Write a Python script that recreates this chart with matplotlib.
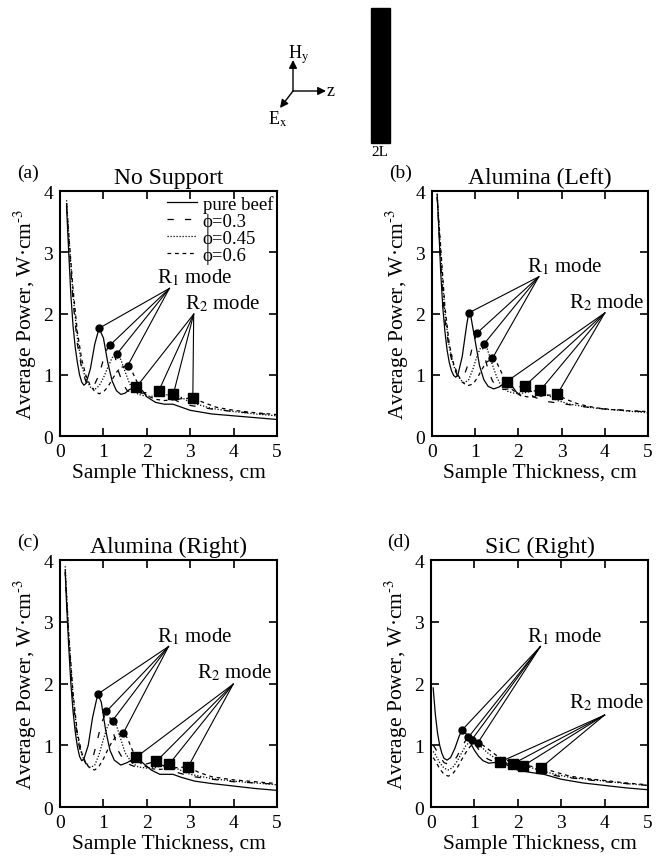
import matplotlib
matplotlib.use('Agg')
import matplotlib.pyplot as plt
from matplotlib.patches import Rectangle, FancyArrowPatch

plt.rcParams['font.family'] = ['Liberation Serif', 'DejaVu Serif']
plt.rcParams['mathtext.fontset'] = 'stix'

titles = ['No Support', 'Alumina (Left)', 'Alumina (Right)', 'SiC (Right)']
tags = ['(a)', '(b)', '(c)', '(d)']
names = ['pure beef', 'ϕ=0.3', 'ϕ=0.45', 'ϕ=0.6']

# (a) No Support
a_beef_x = [0.15, 0.2, 0.25, 0.3, 0.35, 0.4, 0.45, 0.5, 0.55, 0.6, 0.7, 0.8, 0.9, 1.0, 1.1, 1.2, 1.3, 1.4, 1.5, 1.6, 1.76, 1.9, 2.0, 2.2, 2.4, 2.6, 2.8, 3.0, 3.5, 4.0, 4.5, 5.0]
a_beef_y = [3.75, 3.0, 2.3, 1.8, 1.45, 1.2, 1.0, 0.88, 0.83, 0.86, 1.1, 1.5, 1.76, 1.6, 1.2, 0.9, 0.74, 0.68, 0.70, 0.76, 0.80, 0.74, 0.64, 0.55, 0.52, 0.52, 0.47, 0.42, 0.36, 0.33, 0.30, 0.27]
a_p30_x = [0.15, 0.2, 0.3, 0.4, 0.5, 0.6, 0.7, 0.8, 0.9, 1.0, 1.1, 1.16, 1.25, 1.35, 1.45, 1.55, 1.7, 1.9, 2.1, 2.27, 2.45, 2.7, 3.0, 3.5, 4.0, 4.5, 5.0]
a_p30_y = [3.8, 3.2, 2.2, 1.5, 1.1, 0.88, 0.80, 0.85, 1.0, 1.25, 1.45, 1.49, 1.35, 1.05, 0.85, 0.74, 0.70, 0.70, 0.72, 0.73, 0.68, 0.57, 0.50, 0.44, 0.40, 0.37, 0.35]
a_p45_x = [0.15, 0.2, 0.3, 0.4, 0.5, 0.6, 0.7, 0.8, 0.9, 1.0, 1.1, 1.2, 1.31, 1.4, 1.5, 1.6, 1.7, 1.8, 2.0, 2.2, 2.4, 2.61, 2.8, 3.0, 3.5, 4.0, 4.5, 5.0]
a_p45_y = [3.85, 3.3, 2.3, 1.6, 1.15, 0.92, 0.80, 0.76, 0.82, 0.95, 1.12, 1.28, 1.34, 1.25, 1.05, 0.86, 0.74, 0.68, 0.65, 0.65, 0.67, 0.68, 0.63, 0.55, 0.45, 0.40, 0.36, 0.33]
a_p60_x = [0.15, 0.2, 0.3, 0.4, 0.5, 0.6, 0.7, 0.8, 0.9, 1.0, 1.1, 1.2, 1.3, 1.4, 1.56, 1.65, 1.75, 1.85, 2.0, 2.2, 2.4, 2.6, 2.8, 3.06, 3.3, 3.6, 4.0, 4.5, 5.0]
a_p60_y = [3.8, 3.3, 2.4, 1.7, 1.25, 0.98, 0.82, 0.73, 0.69, 0.72, 0.80, 0.92, 1.04, 1.12, 1.15, 1.07, 0.92, 0.78, 0.66, 0.60, 0.58, 0.59, 0.61, 0.62, 0.55, 0.47, 0.42, 0.38, 0.35]
a_r1_x = [0.9, 1.16, 1.31, 1.56]
a_r1_y = [1.76, 1.49, 1.34, 1.15]
a_r2_x = [1.76, 2.27, 2.61, 3.06]
a_r2_y = [0.80, 0.73, 0.68, 0.62]

# (b) Alumina (Left)
b_beef_x = [0.12, 0.15, 0.2, 0.25, 0.3, 0.35, 0.4, 0.45, 0.5, 0.55, 0.6, 0.7, 0.8, 0.85, 0.9, 1.0, 1.1, 1.2, 1.3, 1.43, 1.55, 1.73, 1.85, 1.95, 2.05]
b_beef_y = [3.95, 3.5, 2.7, 2.1, 1.7, 1.4, 1.2, 1.07, 0.99, 0.96, 1.0, 1.3, 1.8, 2.01, 1.95, 1.55, 1.15, 0.92, 0.81, 0.77, 0.80, 0.89, 0.82, 0.72, 0.66]
b_p30_x = [0.12, 0.15, 0.2, 0.25, 0.3, 0.4, 0.5, 0.6, 0.65, 0.75, 0.85, 0.95, 1.04, 1.12, 1.2, 1.3, 1.4, 1.5, 1.65, 1.8, 2.0, 2.15, 2.25, 2.35, 2.5, 2.7, 3.0, 3.5, 4.0, 4.5, 5.0]
b_p30_y = [3.9, 3.5, 2.85, 2.3, 1.9, 1.4, 1.12, 0.97, 0.94, 1.0, 1.2, 1.5, 1.68, 1.6, 1.35, 1.08, 0.9, 0.8, 0.76, 0.77, 0.80, 0.82, 0.72, 0.64, 0.60, 0.56, 0.53, 0.48, 0.44, 0.42, 0.39]
b_p45_x = [0.12, 0.2, 0.3, 0.4, 0.5, 0.6, 0.7, 0.75, 0.85, 0.95, 1.05, 1.13, 1.2, 1.28, 1.38, 1.5, 1.6, 1.75, 1.9, 2.1, 2.3, 2.51, 2.7, 2.9, 3.2, 3.6, 4.0, 4.5, 5.0]
b_p45_y = [3.95, 3.0, 2.0, 1.45, 1.15, 0.98, 0.89, 0.87, 0.92, 1.1, 1.32, 1.45, 1.50, 1.42, 1.2, 0.96, 0.82, 0.73, 0.70, 0.70, 0.73, 0.75, 0.66, 0.58, 0.52, 0.47, 0.44, 0.41, 0.38]
b_p60_x = [0.12, 0.2, 0.3, 0.4, 0.5, 0.6, 0.7, 0.82, 0.95, 1.05, 1.15, 1.25, 1.4, 1.5, 1.6, 1.7, 1.8, 2.0, 2.2, 2.4, 2.6, 2.9, 3.1, 3.4, 3.8, 4.2, 4.6, 5.0]
b_p60_y = [3.9, 3.1, 2.1, 1.5, 1.18, 1.0, 0.88, 0.82, 0.85, 0.95, 1.08, 1.2, 1.27, 1.2, 1.05, 0.9, 0.79, 0.68, 0.64, 0.64, 0.66, 0.68, 0.60, 0.52, 0.46, 0.43, 0.41, 0.40]
b_r1_x = [0.85, 1.04, 1.20, 1.40]
b_r1_y = [2.01, 1.68, 1.50, 1.27]
b_r2_x = [1.73, 2.15, 2.51, 2.90]
b_r2_y = [0.89, 0.82, 0.75, 0.68]

# (c) Alumina (Right)
c_beef_x = [0.12, 0.15, 0.2, 0.25, 0.3, 0.35, 0.4, 0.45, 0.5, 0.55, 0.65, 0.75, 0.87, 0.95, 1.05, 1.15, 1.25, 1.4, 1.55, 1.76, 1.9, 2.1, 2.3, 2.6, 2.8, 3.1, 3.5, 4.0, 4.5, 5.0]
c_beef_y = [3.8, 3.3, 2.6, 2.0, 1.55, 1.22, 0.98, 0.82, 0.75, 0.78, 1.0, 1.45, 1.83, 1.7, 1.25, 0.92, 0.76, 0.68, 0.72, 0.81, 0.72, 0.60, 0.53, 0.53, 0.48, 0.42, 0.38, 0.34, 0.30, 0.27]
c_p30_x = [0.12, 0.15, 0.2, 0.3, 0.4, 0.5, 0.6, 0.65, 0.75, 0.85, 0.95, 1.07, 1.15, 1.25, 1.35, 1.5, 1.7, 1.9, 2.1, 2.22, 2.4, 2.6, 3.0, 3.5, 4.0, 4.5, 5.0]
c_p30_y = [3.85, 3.4, 2.7, 1.7, 1.1, 0.82, 0.70, 0.69, 0.78, 1.05, 1.35, 1.55, 1.45, 1.15, 0.9, 0.72, 0.66, 0.68, 0.72, 0.74, 0.66, 0.58, 0.50, 0.45, 0.41, 0.39, 0.37]
c_p45_x = [0.12, 0.2, 0.3, 0.4, 0.5, 0.6, 0.7, 0.8, 0.9, 1.0, 1.1, 1.21, 1.3, 1.4, 1.5, 1.65, 1.8, 2.0, 2.2, 2.35, 2.51, 2.7, 3.0, 3.5, 4.0, 4.5, 5.0]
c_p45_y = [3.9, 2.8, 1.8, 1.15, 0.85, 0.70, 0.64, 0.68, 0.85, 1.1, 1.32, 1.40, 1.32, 1.1, 0.88, 0.72, 0.65, 0.63, 0.64, 0.67, 0.69, 0.62, 0.53, 0.46, 0.42, 0.39, 0.36]
c_p60_x = [0.12, 0.2, 0.3, 0.4, 0.5, 0.6, 0.7, 0.8, 0.9, 1.0, 1.1, 1.2, 1.3, 1.46, 1.55, 1.65, 1.75, 1.9, 2.1, 2.3, 2.5, 2.7, 2.95, 3.2, 3.5, 4.0, 4.5, 5.0]
c_p60_y = [3.8, 2.8, 1.85, 1.2, 0.88, 0.70, 0.62, 0.60, 0.66, 0.78, 0.93, 1.06, 1.15, 1.20, 1.12, 0.95, 0.80, 0.68, 0.62, 0.61, 0.62, 0.64, 0.65, 0.56, 0.49, 0.44, 0.41, 0.38]
c_r1_x = [0.87, 1.07, 1.21, 1.46]
c_r1_y = [1.83, 1.55, 1.40, 1.20]
c_r2_x = [1.76, 2.22, 2.51, 2.95]
c_r2_y = [0.81, 0.74, 0.69, 0.65]

# (d) SiC (Right)
d_beef_x = [0.05, 0.1, 0.15, 0.2, 0.25, 0.3, 0.37, 0.45, 0.55, 0.65, 0.72, 0.8, 0.9, 1.0, 1.1, 1.2, 1.33, 1.45, 1.59, 1.75, 2.0, 2.3, 2.6, 3.0, 3.5, 4.0, 4.5, 5.0]
d_beef_y = [1.93, 1.5, 1.2, 1.0, 0.87, 0.79, 0.76, 0.8, 0.95, 1.15, 1.25, 1.2, 1.05, 0.92, 0.82, 0.75, 0.71, 0.72, 0.73, 0.68, 0.60, 0.56, 0.53, 0.45, 0.39, 0.35, 0.31, 0.28]
d_p30_x = [0.05, 0.1, 0.2, 0.3, 0.4, 0.5, 0.6, 0.7, 0.8, 0.86, 0.95, 1.05, 1.15, 1.3, 1.5, 1.7, 1.89, 2.1, 2.4, 2.8, 3.0, 3.5, 4.0, 4.5, 5.0]
d_p30_y = [1.0, 0.95, 0.82, 0.72, 0.69, 0.72, 0.82, 0.96, 1.08, 1.13, 1.08, 0.98, 0.88, 0.78, 0.72, 0.70, 0.70, 0.66, 0.60, 0.52, 0.49, 0.45, 0.41, 0.38, 0.35]
d_p45_x = [0.05, 0.1, 0.2, 0.3, 0.4, 0.5, 0.6, 0.7, 0.8, 0.94, 1.05, 1.15, 1.3, 1.5, 1.7, 1.9, 2.13, 2.4, 2.8, 3.2, 3.6, 4.0, 4.5, 5.0]
d_p45_y = [0.9, 0.85, 0.72, 0.63, 0.60, 0.64, 0.74, 0.87, 0.99, 1.09, 1.05, 0.98, 0.88, 0.78, 0.72, 0.69, 0.67, 0.62, 0.54, 0.48, 0.45, 0.42, 0.38, 0.35]
d_p60_x = [0.05, 0.1, 0.2, 0.3, 0.4, 0.5, 0.6, 0.7, 0.8, 0.9, 1.0, 1.08, 1.2, 1.35, 1.5, 1.7, 1.9, 2.1, 2.3, 2.54, 2.8, 3.2, 3.6, 4.0, 4.5, 5.0]
d_p60_y = [0.8, 0.75, 0.62, 0.53, 0.50, 0.54, 0.63, 0.76, 0.88, 0.98, 1.03, 1.04, 1.0, 0.92, 0.84, 0.77, 0.72, 0.69, 0.66, 0.64, 0.58, 0.50, 0.46, 0.43, 0.39, 0.36]
d_r1_x = [0.72, 0.86, 0.94, 1.08]
d_r1_y = [1.25, 1.13, 1.09, 1.04]
d_r2_x = [1.59, 1.89, 2.13, 2.54]
d_r2_y = [0.73, 0.70, 0.67, 0.64]

panels = [
    ([(a_beef_x, a_beef_y), (a_p30_x, a_p30_y), (a_p45_x, a_p45_y), (a_p60_x, a_p60_y)], (a_r1_x, a_r1_y), (a_r2_x, a_r2_y)),
    ([(b_beef_x, b_beef_y), (b_p30_x, b_p30_y), (b_p45_x, b_p45_y), (b_p60_x, b_p60_y)], (b_r1_x, b_r1_y), (b_r2_x, b_r2_y)),
    ([(c_beef_x, c_beef_y), (c_p30_x, c_p30_y), (c_p45_x, c_p45_y), (c_p60_x, c_p60_y)], (c_r1_x, c_r1_y), (c_r2_x, c_r2_y)),
    ([(d_beef_x, d_beef_y), (d_p30_x, d_p30_y), (d_p45_x, d_p45_y), (d_p60_x, d_p60_y)], (d_r1_x, d_r1_y), (d_r2_x, d_r2_y)),
]

# layout: axes rects, and where the "R mode" callouts sit (anchor point, text corner)
rects = [[0.0904, 0.4930, 0.3268, 0.2842], [0.6506, 0.4930, 0.3253, 0.2842],
         [0.0904, 0.0626, 0.3268, 0.2865], [0.6491, 0.0626, 0.3268, 0.2865]]
r1_anchor = [(2.52, 2.41), (2.47, 2.60), (2.50, 2.60), (2.52, 2.60)]
r1_text = [(2.24, 2.43), (2.20, 2.60), (2.24, 2.61), (2.21, 2.61)]
r2_anchor = [(3.08, 1.99), (4.0, 2.01), (3.99, 1.99), (4.0, 1.49)]
r2_text = [(2.88, 2.01), (3.17, 2.02), (3.16, 2.02), (3.18, 1.54)]
styles = [dict(ls='-'), dict(dashes=(5, 9)), dict(dashes=(1, 1.4)), dict(dashes=(3, 3))]

fig = plt.figure(figsize=(6.64, 8.62), dpi=100)

for i, (curves, r1, r2) in enumerate(panels):
    ax = fig.add_axes(rects[i])
    for (x, y), st, nm in zip(curves, styles, names):
        ax.plot(x, y, color='black', lw=0.9, label=nm, **st)
    for (mx, my), (ax0, ay0) in [(r1, r1_anchor[i]), (r2, r2_anchor[i])]:
        for px, py in zip(mx, my):
            ax.plot([ax0, px], [ay0, py], color='black', lw=0.8)
    ax.plot(r1[0], r1[1], 'o', color='black', ms=5, zorder=5)
    ax.plot(r2[0], r2[1], 's', color='black', ms=6.5, zorder=5)
    ax.text(r1_text[i][0], r1_text[i][1], 'R$_1$ mode', fontsize=15, va='bottom', ha='left')
    ax.text(r2_text[i][0], r2_text[i][1], 'R$_2$ mode', fontsize=15, va='bottom', ha='left')

    ax.set_xlim(0, 5)
    ax.set_ylim(0, 4)
    ax.set_xticks(range(6))
    ax.set_yticks(range(5))
    ax.tick_params(direction='in', top=True, right=True, length=6, width=1.2, labelsize=14, pad=5)
    for s in ax.spines.values():
        s.set_linewidth(1.5)
    ax.set_xlabel('Sample Thickness, cm', fontsize=15.5, labelpad=2)
    ax.set_ylabel('Average Power, W·cm$^{\\text{-3}}$', fontsize=15.5, labelpad=3)
    ax.set_title(titles[i], fontsize=17, pad=6)
    ax.text(-0.2, 1.04, tags[i], transform=ax.transAxes, fontsize=14, va='bottom', ha='left')
    if i == 0:
        ax.legend(loc='upper right', frameon=False, fontsize=13.5, handlelength=1.6,
                  labelspacing=0.0, handletextpad=0.3, borderaxespad=0.1, borderpad=0.1)

# sketch at the top: field axes and the sample slab
ov = fig.add_axes([0, 0, 1, 1], zorder=-1)
ov.set_xlim(0, 664)
ov.set_ylim(862, 0)
ov.axis('off')
ov.add_patch(Rectangle((371, 9), 19, 135, color='black'))
ov.text(380, 146, '2L', fontsize=11, ha='center', va='top')
for tip in [(293, 61), (326, 92), (280, 109)]:
    ov.add_patch(FancyArrowPatch((293, 92), tip, arrowstyle='-|>', mutation_scale=12,
                                 color='black', lw=1.0, shrinkA=0, shrinkB=0))
ov.text(288, 66, 'H$_{\\rm y}$', fontsize=13, ha='left', va='bottom')
ov.text(327, 92, 'z', fontsize=13, ha='left', va='center')
ov.text(268, 110, 'E$_{\\rm x}$', fontsize=13, ha='left', va='top')

fig.savefig('out.png', dpi=100)
